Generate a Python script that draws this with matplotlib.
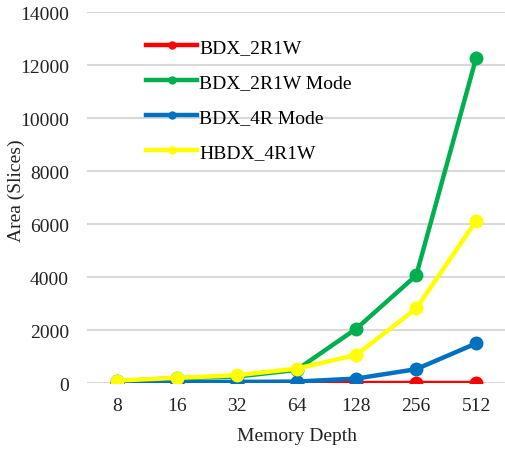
import matplotlib
matplotlib.use("Agg")
import matplotlib.pyplot as plt
from matplotlib.lines import Line2D

plt.rcParams['font.family'] = ['Liberation Serif', 'DejaVu Serif']

depths = ['8', '16', '32', '64', '128', '256', '512']
bdx_2r1w = [10, 10, 10, 10, 10, 10, 10]
bdx_2r1w_mode = [80, 190, 250, 500, 2060, 4070, 12270]
bdx_4r_mode = [20, 40, 50, 60, 175, 530, 1500]
hbdx_4r1w = [100, 200, 300, 550, 1070, 2820, 6120]

names = ['BDX_2R1W', 'BDX_2R1W Mode', 'BDX_4R Mode', 'HBDX_4R1W']
colors = ['#ff0000', '#00b050', '#0070c0', '#ffff00']
series = [bdx_2r1w, bdx_2r1w_mode, bdx_4r_mode, hbdx_4r1w]

fs = 14
fig = plt.figure(figsize=(5.06, 4.52), dpi=100)
ax = fig.add_axes([0.172, 0.150, 0.828, 0.8206])

x = list(range(len(depths)))
for vals, c in zip(series, colors):
    ax.plot(x, vals, color=c, lw=3.2, marker='o', ms=9, solid_capstyle='round')

ax.set_xlim(-0.5, len(depths) - 0.5)
ax.set_ylim(0, 14000)
ax.set_yticks(range(0, 14001, 2000))
ax.set_xticks(x)
ax.set_xticklabels(depths)
ax.tick_params(length=0, labelsize=fs, colors='#222222')
ax.tick_params(axis='y', pad=13)
ax.tick_params(axis='x', pad=10)
ax.grid(axis='y', color='#d9d9d9', lw=1.5)
ax.set_axisbelow(True)
for s in ax.spines.values():
    s.set_visible(False)

ax.set_xlabel('Memory Depth', fontsize=fs, color='#222222', labelpad=9)
ax.set_ylabel('Area (Slices)', fontsize=fs, color='#222222')
ax.yaxis.set_label_coords(-0.148, 0.523)

handles = [Line2D([], [], color=c, lw=3.2, marker='o', ms=5) for c in colors]
ax.legend(handles, names, loc='upper left', bbox_to_anchor=(0.141, 0.93),
          frameon=False, fontsize=fs, handlelength=2.63, handletextpad=0.1,
          labelspacing=0.9, borderaxespad=0, borderpad=0)

fig.savefig('out.png', dpi=100)
